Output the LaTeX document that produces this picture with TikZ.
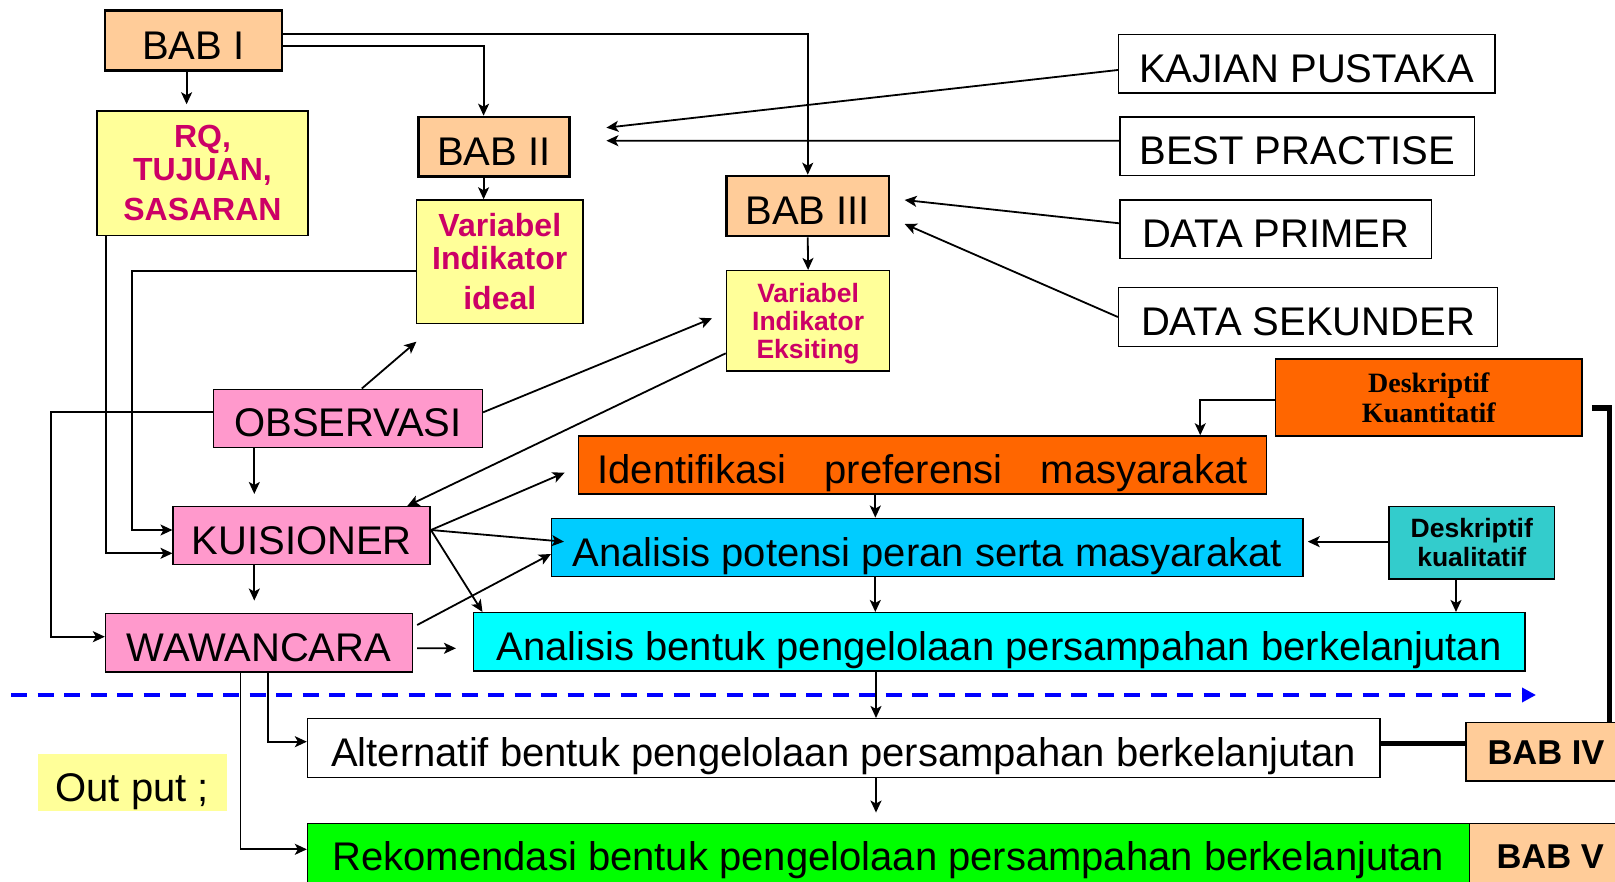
\documentclass[tikz,border=0pt]{standalone}
\usepackage{fontspec}
\setmainfont{Liberation Sans}
\newfontfamily\timesfont{Liberation Serif}
\usetikzlibrary{arrows.meta}

\definecolor{peach}{HTML}{FFCC99}
\definecolor{paleyellow}{HTML}{FFFF99}
\definecolor{magentatext}{HTML}{CC0066}
\definecolor{pinkbox}{HTML}{FF99CC}
\definecolor{orangebox}{HTML}{FF6600}
\definecolor{skybox}{HTML}{00CCFF}
\definecolor{cyanbox}{HTML}{00FFFF}
\definecolor{tealbox}{HTML}{33CCCC}
\definecolor{greenbox}{HTML}{00FF00}
\definecolor{dashblue}{HTML}{0000FF}

\begin{document}
\begin{tikzpicture}[x=1pt,y=-1pt,
  sz/.style 2 args={minimum width=#1pt, minimum height=#2pt},
  box/.style={draw=black, line width=1.5pt, inner sep=0pt, align=center},
  babbox/.style={box, fill=peach, line width=2.6pt},
  big/.style={font=\fontsize{40}{48}\selectfont, text height=37pt, text depth=0pt},
  redtext/.style={text=magentatext, font=\bfseries\fontsize{32}{33.4}\selectfont},
  smallred/.style={text=magentatext, font=\bfseries\fontsize{26.5}{28.3}\selectfont, text depth=0pt},
  chapter/.style={box, fill=peach, font=\bfseries\fontsize{34.5}{40}\selectfont, text height=24.7pt, text depth=0pt},
  conn/.style={line width=1.8pt},
  arr/.style={conn, -{Stealth[length=12pt,width=11pt,inset=3pt]}},
  thickline/.style={line width=5.5pt},
  dashline/.style={draw=dashblue, line width=4.5pt, dash pattern=on 16pt off 10.5pt, -{Triangle[length=14pt,width=14pt]}}
]
\useasboundingbox (0,0) rectangle (1615,882);

% chapter and content boxes
\node[babbox,big,sz={177.1}{60}] (bab1) at (193.35,40.7) {BAB I};
\node[box,fill=paleyellow,sz={211.1}{124.3},redtext] (rq) at (202.45,173.15) {RQ,\\TUJUAN,\\[6.6pt]SASARAN};
\node[babbox,big,sz={151.1}{59.7}] (bab2) at (493.85,146.85) {BAB II};
\node[box,fill=paleyellow,sz={166.8}{123.3},redtext] (ideal) at (499.8,261.65) {Variabel\\Indikator\\[6.6pt]ideal};
\node[babbox,big,sz={162.5}{60}] (bab3) at (807.75,206) {BAB III};
\node[box,fill=paleyellow,sz={163.2}{100.3},smallred] (eks) at (808.1,320.85) {Variabel\\Indikator\\Eksiting};

% sources
\node[box,fill=white,big,sz={376.2}{58.7}] (kajian) at (1306.7,63.65) {KAJIAN PUSTAKA};
\node[box,fill=white,big,sz={354.4}{58.7}] (best) at (1297.2,146.35) {BEST PRACTISE};
\node[box,fill=white,big,sz={311.5}{58.3}] (primer) at (1275.75,229.15) {DATA PRIMER};
\node[box,fill=white,big,sz={378.9}{59.4}] (sekunder) at (1308.05,317) {DATA SEKUNDER};

% survey methods
\node[box,fill=pinkbox,big,sz={268.9}{58.4}] (obs) at (347.95,418.5) {OBSERVASI};
\node[box,fill=pinkbox,big,sz={257}{58}] (kuis) at (301.7,535.7) {KUISIONER};
\node[box,fill=pinkbox,big,sz={306.8}{58.7}] (waw) at (259,642.65) {WAWANCARA};

% analysis
\node[box,fill=orangebox,sz={306.5}{77},font=\timesfont\bfseries\fontsize{28}{30}\selectfont] (kuant) at (1428.85,397.5) {Deskriptif\\Kuantitatif};
\node[box,fill=orangebox,big,sz={688.3}{58}] (ident) at (922.55,465) {\makebox[650pt][s]{Identifikasi preferensi masyarakat}};
\node[box,fill=skybox,big,sz={751.3}{58.4}] (potensi) at (927.35,547.5) {Analisis potensi peran serta masyarakat};
\node[box,fill=tealbox,sz={165.9}{72.7},font=\bfseries\fontsize{26.5}{28.3}\selectfont] (kual) at (1471.75,542.65) {Deskriptif\\kualitatif};
\node[box,fill=cyanbox,big,sz={1051.5}{58.3}] (bentuk) at (999.05,641.85) {Analisis bentuk pengelolaan persampahan berkelanjutan};

% outputs
\node[box,fill=white,big,sz={1072.4}{58.6}] (alt) at (843.8,748) {Alternatif bentuk pengelolaan persampahan berkelanjutan};
\node[box,fill=greenbox,big,text height=28.6pt,sz={1161.8}{65.7}] (rek) at (888.5,856.15) {Rekomendasi bentuk pengelolaan persampahan berkelanjutan};
\node[chapter,sz={160}{58.3}] (bab4) at (1546,751.85) {BAB IV};
\node[chapter,sz={161.6}{65.7}] (bab5) at (1550.2,856.15) {BAB V};
\node[fill=paleyellow,inner sep=0pt,big,sz={188.6}{56.4}] (output) at (132.3,782.5) {Out put ;};

% free arrow ends
\coordinate (kajTip) at (606.4,127.7);
\coordinate (bestTip) at (606.4,140.7);
\coordinate (obsTipA) at (416.4,341.7);
\coordinate (obsTipB) at (712,318.3);
\coordinate (kuisTipA) at (564.6,472.7);
\coordinate (dashL) at (11,695);
\coordinate (dashR) at (1536,695);

% boundary between analysis and output
\draw[dashline] (dashL) -- (dashR);

% BAB I outputs
\draw[arr,shorten >=6pt] ([xshift=-6.75pt]bab1.south) -- ([xshift=-6.75pt]bab1.south |- rq.north);
\draw[arr] ([yshift=-5.6pt]bab1.east) -| ([xshift=-10.25pt]bab2.north);
\draw[arr] ([yshift=6.4pt]bab1.east) -| (bab3.north);
\draw[arr] ([xshift=-10.25pt]bab2.south) -- ([xshift=-10.25pt]bab2.south |- ideal.north);
\draw[arr] (bab3.south) -- (eks.north);

% sources into BAB II and BAB III
\draw[arr] ([yshift=-6.35pt]kajian.west) -- (kajTip);
\draw[arr] ([yshift=5.65pt]best.west) -- (bestTip);
\draw[arr] ([yshift=5.85pt]primer.west) -- ([xshift=14.4pt,yshift=6pt]bab3.east);
\draw[arr] (sekunder.west) -- ([xshift=14.4pt,yshift=-18pt]bab3.east);

% into KUISIONER from the left
\draw[arr] ([yshift=-9pt]ideal.west) -| ([xshift=-40.7pt,yshift=5.7pt]kuis.west) -- ([yshift=5.7pt]kuis.west);
\draw[arr] ([xshift=-96.85pt]rq.south) |- ([yshift=-17.6pt]kuis.west);

% OBSERVASI
\draw[arr] ([xshift=13.85pt]obs.north) -- (obsTipA);
\draw[arr] ([yshift=6.2pt]obs.east) -- (obsTipB);
\draw[arr] ([yshift=6.2pt]obs.west) -| ([xshift=-54.2pt,yshift=5.95pt]waw.west) -- ([yshift=5.95pt]waw.west);
\draw[arr,shorten >=12pt] ([xshift=-93.65pt]obs.south) -- ([xshift=-93.65pt]obs.south |- kuis.north);
\draw[arr,shorten >=12pt] ([xshift=-47.4pt]kuis.south) -- ([xshift=-47.4pt]kuis.south |- waw.north);
\draw[arr] ([yshift=-32.45pt]eks.west) -- ([xshift=105.6pt]kuis.north);

% KUISIONER outputs
\coordinate (kuisOut) at ([yshift=5.7pt]kuis.east);
\draw[arr] (kuisOut) -- (kuisTipA);
\draw[arr] (kuisOut) -- ([xshift=13pt,yshift=5.8pt]potensi.west);
\draw[arr] (kuisOut) -- ([xshift=9.9pt]bentuk.north west);

% WAWANCARA outputs
\draw[arr] ([xshift=4pt,yshift=17.65pt]waw.east) -- ([yshift=-6.5pt]potensi.west);
\draw[arr] ([xshift=4pt,yshift=-5.65pt]waw.east) -- ([xshift=-16.6pt,yshift=-6.45pt]bentuk.west);
\draw[arr] ([xshift=-18.6pt]waw.south) |- ([yshift=6.85pt]rek.west);
\draw[arr] ([xshift=8.7pt]waw.south) |- ([yshift=6.3pt]alt.west);

% analysis chain
\draw[arr] ([yshift=-2.5pt]kuant.west) -| ([xshift=-67.2pt]ident.north east);
\draw[arr] ([xshift=-47.25pt]ident.south) -- ([xshift=-47.25pt]ident.south |- potensi.north);
\draw[arr] ([xshift=-52.05pt]potensi.south) -- ([xshift=-52.05pt]potensi.south |- bentuk.north);
\draw[arr,shorten >=4pt] ([yshift=1pt]kual.west) -- ([yshift=1pt]kual.west -| potensi.east);
\draw[arr] ([xshift=-15.75pt]kual.south) -- ([xshift=-15.75pt]kual.south |- bentuk.north);
\draw[arr] ([xshift=-123.05pt]bentuk.south) -- ([xshift=-123.05pt]bentuk.south |- alt.north);
\draw[arr,shorten >=10pt] ([xshift=32.2pt]alt.south) -- ([xshift=32.2pt]alt.south |- rek.north);

% chapter links
\draw[thickline] ([yshift=4.7pt]alt.east) -- ([yshift=4.7pt]alt.east -| bab4.west);
\draw[thickline] ([xshift=9pt,yshift=-10.5pt]kuant.east) -| ([xshift=63.5pt]bab4.north);
\end{tikzpicture}
\end{document}
